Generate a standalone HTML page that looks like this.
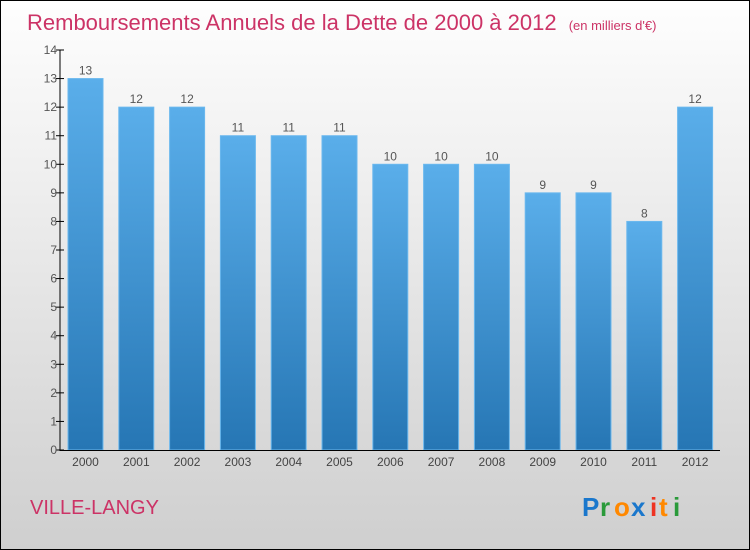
<!DOCTYPE html>
<html><head><meta charset="utf-8"><style>
body{margin:0;width:750px;height:550px;overflow:hidden;font-family:"Liberation Sans",sans-serif}
#bg{position:absolute;left:0;top:0;width:748px;height:548px;border:1px solid #000;background:linear-gradient(#fefefe,#f0f0f0 30%,#d8d8d8 80%,#cfcfcf)}
</style></head><body>
<div id="bg"></div>
<svg width="750" height="550" style="position:absolute;left:0;top:0">
<defs><linearGradient id="g" x1="0" y1="0" x2="0" y2="1"><stop offset="0" stop-color="#5aaeea"/><stop offset="1" stop-color="#2676b4"/></linearGradient></defs>
<text x="27" y="30" font-size="22" fill="#cc3366">Remboursements Annuels de la Dette de 2000 à 2012 <tspan font-size="13" dx="6">(en milliers d'€)</tspan></text>
<g id="bars"></g>
<line x1="60" y1="50" x2="60" y2="451" stroke="#000"/>
<line x1="60" y1="450.5" x2="720" y2="450.5" stroke="#000"/>
<g id="ticks"></g>
<text x="30" y="514" font-size="20" fill="#cc3366">VILLE-LANGY</text>
<g font-size="26" font-weight="bold">
<text x="582" y="516" fill="#1a77cc">P</text><text x="600" y="516" fill="#2a9a3a">r</text><text x="614" y="516" fill="#ff8800">o</text><text x="631" y="516" fill="#1a77cc">x</text><text x="650" y="516" fill="#ee3322">i</text><text x="659" y="516" fill="#ff8800">t</text><text x="673" y="516" fill="#2a9a3a">i</text></g>
</svg>
<script>
const years=["2000","2001","2002","2003","2004","2005","2006","2007","2008","2009","2010","2011","2012"];
const values=[13,12,12,11,11,11,10,10,10,9,9,8,12];
const yTicks=[0,1,2,3,4,5,6,7,8,9,10,11,12,13,14];
const NS="http://www.w3.org/2000/svg";
const y=v=>450-v*400/14;
const xc=i=>85.5+i*50.8;
const bars=document.getElementById('bars'),ticks=document.getElementById('ticks');
function mk(tag,attrs,parent,txt){const e=document.createElementNS(NS,tag);for(const k in attrs)e.setAttribute(k,attrs[k]);if(txt!==undefined)e.textContent=txt;parent.appendChild(e);return e;}
values.forEach((v,i)=>{
 const r=mk('rect',{x:xc(i)-17.5,y:y(v),width:35,height:450-y(v),fill:'url(#g)',stroke:'#6bb8ee','stroke-width':1},bars);
 
 
 const t=mk('text',{x:xc(i),y:y(v)-4,'text-anchor':'middle','font-size':12,fill:'#555'},bars,String(v));
 
 
 const xl=mk('text',{x:xc(i),y:466,'text-anchor':'middle','font-size':12,fill:'#444'},ticks,years[i]);
 
 
});
yTicks.forEach(v=>{
 const l=mk('line',{x1:56,x2:64,y1:y(v),y2:y(v),stroke:'#000'},ticks);
 
 
 const t=mk('text',{x:57,y:y(v)+4,'text-anchor':'end','font-size':12,fill:'#555'},ticks,String(v));
 
 
});
</script>
</body></html>
